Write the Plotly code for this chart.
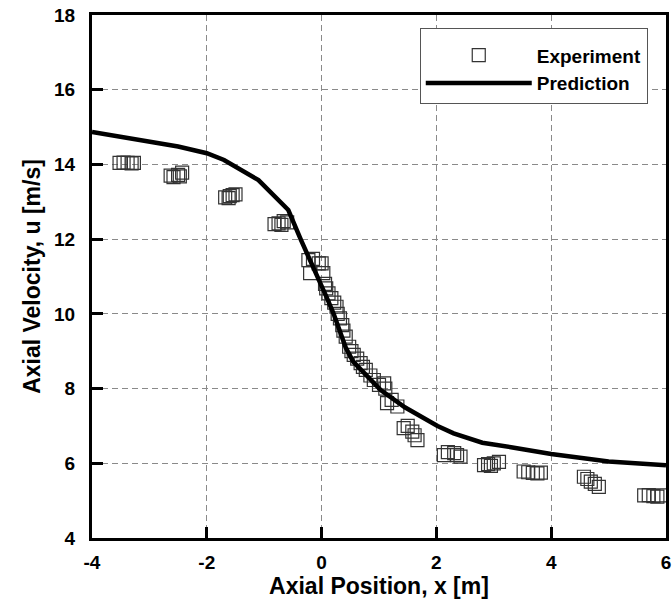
import plotly.graph_objects as go

# Experiment data
exp_x = [-3.52, -3.45, -3.38, -3.31, -3.27,
         -2.63, -2.58, -2.50, -2.43, -2.47,
         -1.68, -1.62, -1.55, -1.50, -1.60,
         -0.82, -0.75, -0.66, -0.60, -0.70,
         -0.23, -0.15, -0.05, 0.00, -0.20, 0.03, 0.06, 0.08, 0.12, 0.17,
         0.22, 0.26, 0.28, 0.32, 0.36, 0.38, 0.42, 0.48, 0.52, 0.56,
         0.62, 0.68, 0.72, 0.77, 0.85, 0.91, 1.00, 1.09, 1.11, 1.14,
         1.22, 1.32, 1.43, 1.50, 1.58, 1.67, 1.62,
         2.13, 2.20, 2.31, 2.42, 2.36,
         2.83, 2.90, 3.00, 3.09, 2.95,
         3.52, 3.60, 3.68, 3.76, 3.82,
         4.57, 4.63, 4.69, 4.76, 4.83,
         5.62, 5.70, 5.78, 5.85, 5.92]
exp_y = [14.04, 14.05, 14.04, 14.03, 14.04,
         13.70, 13.66, 13.72, 13.78, 13.68,
         13.12, 13.10, 13.18, 13.20, 13.15,
         12.40, 12.42, 12.48, 12.45, 12.38,
         11.44, 11.47, 11.35, 11.35, 11.09, 11.09, 10.80, 10.68, 10.55, 10.42,
         10.30, 10.19, 10.00, 9.88, 9.70, 9.55, 9.39, 9.12, 9.00, 8.90,
         8.80, 8.68, 8.58, 8.50, 8.35, 8.23, 8.10, 8.14, 8.00, 7.61,
         7.70, 7.52, 6.94, 7.00, 6.85, 6.62, 6.75,
         6.22, 6.30, 6.27, 6.18, 6.22,
         5.95, 5.98, 6.00, 6.04, 5.93,
         5.78, 5.76, 5.74, 5.73, 5.75,
         5.64, 5.58, 5.51, 5.45, 5.37,
         5.14, 5.15, 5.12, 5.11, 5.14]

# Prediction curve
pred_x = [-4, -3.0, -2.5, -2, -1.7, -1.1, -0.58, -0.36, -0.14, 0.0, 0.1, 0.21, 0.3, 0.42,
          0.55, 0.73, 0.85, 1.03, 1.45, 2.02, 2.3, 2.8, 3.3, 4.0, 5.0, 6.0]
pred_y = [14.87, 14.63, 14.48, 14.3, 14.12, 13.58, 12.78, 11.98, 11.25, 10.77, 10.4, 10.0, 9.6, 9.1,
          8.72, 8.42, 8.22, 7.96, 7.5, 7.0, 6.8, 6.55, 6.43, 6.25, 6.05, 5.95]

x_ticks = [-4, -2, 0, 2, 4, 6]
y_ticks = [4, 6, 8, 10, 12, 14, 16, 18]

FONT = "Liberation Sans, Arial, sans-serif"

fig = go.Figure()
fig.add_trace(go.Scatter(
    x=exp_x, y=exp_y, mode="markers", name="Experiment",
    marker=dict(symbol="square-open", size=13, color="#333333", line=dict(width=1.2, color="#333333")),
    cliponaxis=False,
))
fig.add_trace(go.Scatter(
    x=pred_x, y=pred_y, mode="lines", name="Prediction",
    line=dict(color="black", width=4.5),
))

axis_common = dict(
    showline=True, linecolor="black", linewidth=3, mirror=True,
    ticks="inside", ticklen=11, tickwidth=2.5, tickcolor="black",
    showgrid=True, gridcolor="#8a8a8a", gridwidth=1, griddash="6px,4px",
    zeroline=False,
    tickfont=dict(family=FONT, size=19, color="black", weight="bold"),
)

fig.update_xaxes(
    range=[-4, 6], tickvals=x_ticks, ticktext=[str(v) for v in x_ticks],
    title=dict(text="Axial Position, x [m]", font=dict(family=FONT, size=23, color="black", weight="bold"), standoff=3),
    ticklabelstandoff=5,
    **axis_common,
)
fig.update_yaxes(
    range=[4, 18], tickvals=y_ticks, ticktext=[str(v) for v in y_ticks],
    title=dict(text="Axial Velocity, u [m/s]", font=dict(family=FONT, size=23, color="black", weight="bold"), standoff=8),
    ticklabelstandoff=10,
    **axis_common,
)

fig.update_layout(
    width=672, height=605,
    margin=dict(l=92, r=6, t=15, b=67, autoexpand=False),
    plot_bgcolor="white", paper_bgcolor="white",
    showlegend=True,
    legend=dict(
        x=0.571, y=0.976, xanchor="left", yanchor="top",
        bgcolor="white", bordercolor="#555555", borderwidth=1,
        font=dict(family=FONT, size=19, color="black", weight="bold"),
        itemwidth=106,
        title=dict(text=" ", font=dict(size=6)),
    ),
)

fig.write_html("out.html")
